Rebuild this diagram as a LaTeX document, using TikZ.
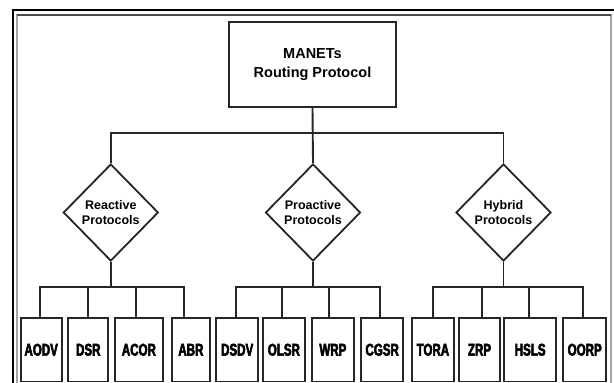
\documentclass[tikz,border=0pt]{standalone}
\usepackage{fontspec}
\setmainfont{Liberation Sans}
\newfontfamily\leaffont[FakeStretch=0.68,FakeBold=3]{Liberation Sans Bold}
\usetikzlibrary{shapes.geometric}
\begin{document}
\begin{tikzpicture}[x=1pt,y=-1pt,
  conn/.style={line width=1.9pt, draw=black!85},
  rootbox/.style={draw=black!85, line width=1.9pt, minimum width=167pt, minimum height=85pt,
    inner sep=0pt, align=center, font=\bfseries\fontsize{14.5}{19}\selectfont},
  dia/.style={diamond, draw=black!85, line width=1.8pt, minimum width=95pt, minimum height=97pt,
    inner sep=0pt, align=center, font=\bfseries\fontsize{12.5}{15}\selectfont},
  leaf/.style={draw=black!85, line width=1.9pt, minimum height=63.5pt, inner sep=0pt,
    font=\leaffont\fontsize{17}{16}\selectfont}
]
\clip (0,0) rectangle (614,383);
\fill[white] (0,0) rectangle (614,383);

% page frame
\draw[black, line width=1.2pt] (13,10) rectangle (640,400);
\draw[gray!70, line width=2pt] (16.5,14.5) rectangle (611,400);
\draw[black!70, line width=2pt] (16.5,14.5) -- (611,14.5);

% root and protocol families
\node[rootbox] (root) at (312.5,64.5) {MANETs\\Routing Protocol};
\node[dia] (rea) at (110.8,212.5) {Reactive\\Protocols};
\node[dia] (pro) at (313,212.5) {Proactive\\Protocols};
\node[dia] (hyb) at (503.5,212.5) {Hybrid\\Protocols};

% individual protocols
\node[leaf, minimum width=41pt]   (aodv) at (41.2,349.75)  {AODV};
\node[leaf, minimum width=40pt]   (dsr)  at (88.3,349.75)  {DSR};
\node[leaf, minimum width=47.7pt] (acor) at (138.9,349.75) {ACOR};
\node[leaf, minimum width=38.3pt] (abr)  at (190.9,349.75) {ABR};
\node[leaf, minimum width=42.3pt] (dsdv) at (237.2,349.75) {DSDV};
\node[leaf, minimum width=42.3pt] (olsr) at (283.9,349.75) {OLSR};
\node[leaf, minimum width=42.3pt] (wrp)  at (332.9,349.75) {WRP};
\node[leaf, minimum width=42.3pt] (cgsr) at (382.2,349.75) {CGSR};
\node[leaf, minimum width=42.3pt] (tora) at (432.9,349.75) {TORA};
\node[leaf, minimum width=41pt]   (zrp)  at (479.5,349.75) {ZRP};
\node[leaf, minimum width=51.7pt] (hsls) at (530.2,349.75) {HSLS};
\node[leaf, minimum width=42.7pt] (oorp) at (584.7,349.75) {OORP};

% bus levels
\coordinate (topbus) at (0,133);
\coordinate (lowbus) at (0,287);

% root to families
\draw[conn] (root.south) -- (pro.north);
\draw[conn] (rea.north) -- (rea.north |- topbus) -- (hyb.north |- topbus) -- (hyb.north);

% reactive group
\draw[conn] (rea.south) -- (rea.south |- lowbus);
\draw[conn] (aodv.north -| 40,0) -- (40,287) -- (184,287) -- (abr.north -| 184,0);
\draw[conn] (dsr.north -| 88,0) -- (88,287);
\draw[conn] (acor.north -| 136,0) -- (136,287);

% proactive group
\draw[conn] (pro.south) -- (pro.south |- lowbus);
\draw[conn] (dsdv.north -| 236,0) -- (236,287) -- (380,287) -- (cgsr.north -| 380,0);
\draw[conn] (olsr.north -| 282,0) -- (282,287);
\draw[conn] (wrp.north -| 329,0) -- (329,287);

% hybrid group
\draw[conn] (hyb.south) -- (hyb.south |- lowbus);
\draw[conn] (tora.north -| 433,0) -- (433,287) -- (583,287) -- (oorp.north -| 583,0);
\draw[conn] (zrp.north -| 482,0) -- (482,287);
\draw[conn] (hsls.north -| 529,0) -- (529,287);
\end{tikzpicture}
\end{document}
